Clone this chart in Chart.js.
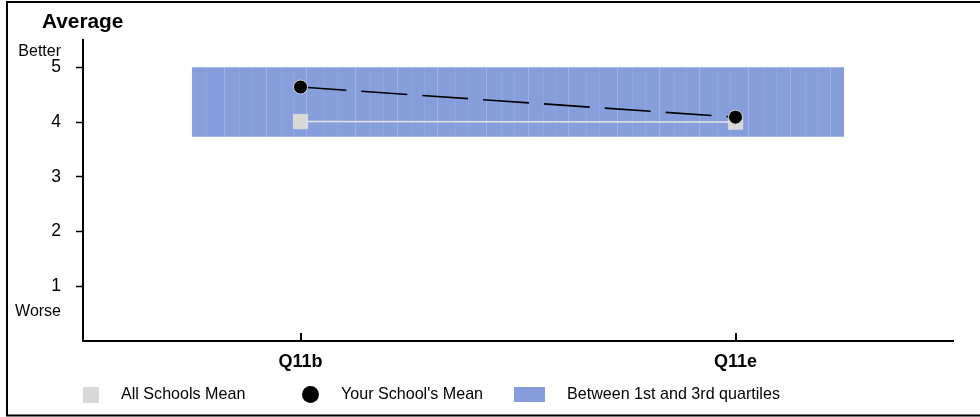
<!DOCTYPE html>
<html>
<head>
<meta charset="utf-8">
<script src="https://cdn.jsdelivr.net/npm/chart.js@4/dist/chart.umd.min.js"></script>
<style>
  html, body { margin: 0; padding: 0; background: #fff; }
  #wrap { width: 980px; height: 417px; }
</style>
</head>
<body>
<div id="wrap"><canvas id="c" width="980" height="417"></canvas></div>
<script>
const categories = ['Q11b', 'Q11e'];
const allSchoolsMean = [4.01, 4.0];
const yourSchoolMean = [4.64, 4.09];
const quartile1 = [3.73, 3.73];
const quartile3 = [5.0, 5.0];
const yTickValues = [1, 2, 3, 4, 5];
const legendLabels = ['All Schools Mean', "Your School's Mean", 'Between 1st and 3rd quartiles'];
const titleText = 'Average';
const betterText = 'Better';
const worseText = 'Worse';

const FONT = "Arial, 'Liberation Sans', Helvetica, sans-serif";
const BAND = 'rgb(134,158,219)';
const GREY = '#d9d9d9';
const bandPad = 0.25;

function bandPoints(vals) {
  const n = vals.length;
  const pts = [{ x: -bandPad, y: vals[0] }];
  vals.forEach((v, i) => pts.push({ x: i, y: v }));
  pts.push({ x: n - 1 + bandPad, y: vals[n - 1] });
  return pts;
}

function makeBandPattern() {
  const c = document.createElement('canvas');
  c.width = 131; c.height = 4;
  const g = c.getContext('2d');
  g.fillStyle = BAND;
  g.fillRect(0, 0, c.width, c.height);
  const stripes = [4, 19, 31, 44, 62, 75, 93, 108, 121];
  stripes.forEach((s, k) => {
    g.fillStyle = k % 3 === 0 ? 'rgba(255,255,255,0.2)' : 'rgba(255,255,255,0.09)';
    g.fillRect(s, 0, 1, c.height);
  });
  return g.createPattern(c, 'repeat');
}

const decor = {
  id: 'decor',
  afterDraw(chart) {
    const ctx = chart.ctx;
    const xs = chart.scales.x, ys = chart.scales.y;
    const area = chart.chartArea;
    ctx.save();
    // frame
    ctx.strokeStyle = '#000';
    ctx.lineWidth = 2;
    ctx.beginPath();
    ctx.moveTo(990, 2); ctx.lineTo(7, 2); ctx.lineTo(7, 415.5); ctx.lineTo(990, 415.5);
    ctx.stroke();
    // title
    ctx.fillStyle = '#000';
    ctx.textBaseline = 'middle';
    ctx.textAlign = 'left';
    ctx.font = 'bold 20.8px ' + FONT;
    ctx.fillText(titleText, 42, 22);
    // Better / Worse
    ctx.font = '16px ' + FONT;
    ctx.textAlign = 'right';
    ctx.fillText(betterText, 61, ys.getPixelForValue(5) - 16);
    ctx.fillText(worseText, 61, ys.getPixelForValue(1) + 25);
    // x tick marks pointing up
    ctx.lineWidth = 2;
    ctx.beginPath();
    categories.forEach((c, i) => {
      const px = Math.round(xs.getPixelForValue(i));
      ctx.moveTo(px, area.bottom);
      ctx.lineTo(px, area.bottom - 8);
    });
    ctx.stroke();
    // legend
    const ly = 395;
    ctx.fillStyle = GREY;
    ctx.fillRect(83, 387, 16, 16);
    ctx.fillStyle = '#000';
    ctx.beginPath();
    ctx.arc(310.5, 394.5, 8.5, 0, Math.PI * 2);
    ctx.fill();
    ctx.fillStyle = BAND;
    ctx.fillRect(514, 387, 31, 15);
    ctx.fillStyle = '#000';
    ctx.textAlign = 'left';
    ctx.font = '16.1px ' + FONT;
    ctx.fillText(legendLabels[0], 121, ly);
    ctx.fillText(legendLabels[1], 341, ly);
    ctx.fillText(legendLabels[2], 567, ly);
    ctx.restore();
  }
};

new Chart(document.getElementById('c'), {
  type: 'line',
  data: {
    datasets: [
      {
        label: 'q3',
        data: bandPoints(quartile3),
        borderColor: 'rgba(0,0,0,0)',
        backgroundColor: makeBandPattern(),
        fill: '+1',
        pointRadius: 0,
        order: 4
      },
      {
        label: 'q1',
        data: bandPoints(quartile1),
        borderColor: 'rgba(0,0,0,0)',
        fill: false,
        pointRadius: 0,
        order: 5
      },
      {
        label: legendLabels[0],
        data: allSchoolsMean.map((v, i) => ({ x: i, y: v })),
        borderColor: '#e4e4e4',
        borderWidth: 1.5,
        pointStyle: 'rect',
        pointRadius: 10.8,
        pointBackgroundColor: GREY,
        pointBorderColor: GREY,
        pointBorderWidth: 0,
        fill: false,
        order: 2
      },
      {
        label: legendLabels[1],
        data: yourSchoolMean.map((v, i) => ({ x: i, y: v })),
        borderColor: '#000',
        borderWidth: 1.6,
        borderDash: [46, 15],
        pointStyle: 'circle',
        pointRadius: 7,
        pointBackgroundColor: '#000',
        pointBorderColor: '#d0d0d0',
        pointBorderWidth: 1,
        fill: false,
        order: 1
      }
    ]
  },
  options: {
    responsive: false,
    animation: false,
    devicePixelRatio: 1,
    layout: { padding: { left: 0, top: 40, right: 27, bottom: 36 } },
    plugins: { legend: { display: false }, tooltip: { enabled: false } },
    scales: {
      x: {
        type: 'linear',
        min: -0.5,
        max: 1.5,
        afterBuildTicks: s => { s.ticks = categories.map((c, i) => ({ value: i })); },
        afterFit: s => { s.height = 40; },
        grid: { display: true, drawOnChartArea: false, drawTicks: false },
        border: { display: true, color: '#000', width: 2 },
        ticks: {
          callback: v => categories[v],
          color: '#000',
          padding: 10,
          font: { family: FONT, size: 18, weight: 'bold' },
          maxRotation: 0
        }
      },
      y: {
        min: 0,
        max: 5.5,
        afterBuildTicks: s => { s.ticks = yTickValues.map(v => ({ value: v })); },
        afterFit: s => { s.width = 83; },
        grid: { display: true, drawOnChartArea: false, drawTicks: true, tickLength: 7, tickWidth: 1.5, tickColor: '#000' },
        border: { display: true, color: '#000', width: 2 },
        ticks: {
          color: '#000',
          padding: 15,
          font: { family: FONT, size: 17.5 }
        }
      }
    }
  },
  plugins: [decor]
});
</script>
</body>
</html>
